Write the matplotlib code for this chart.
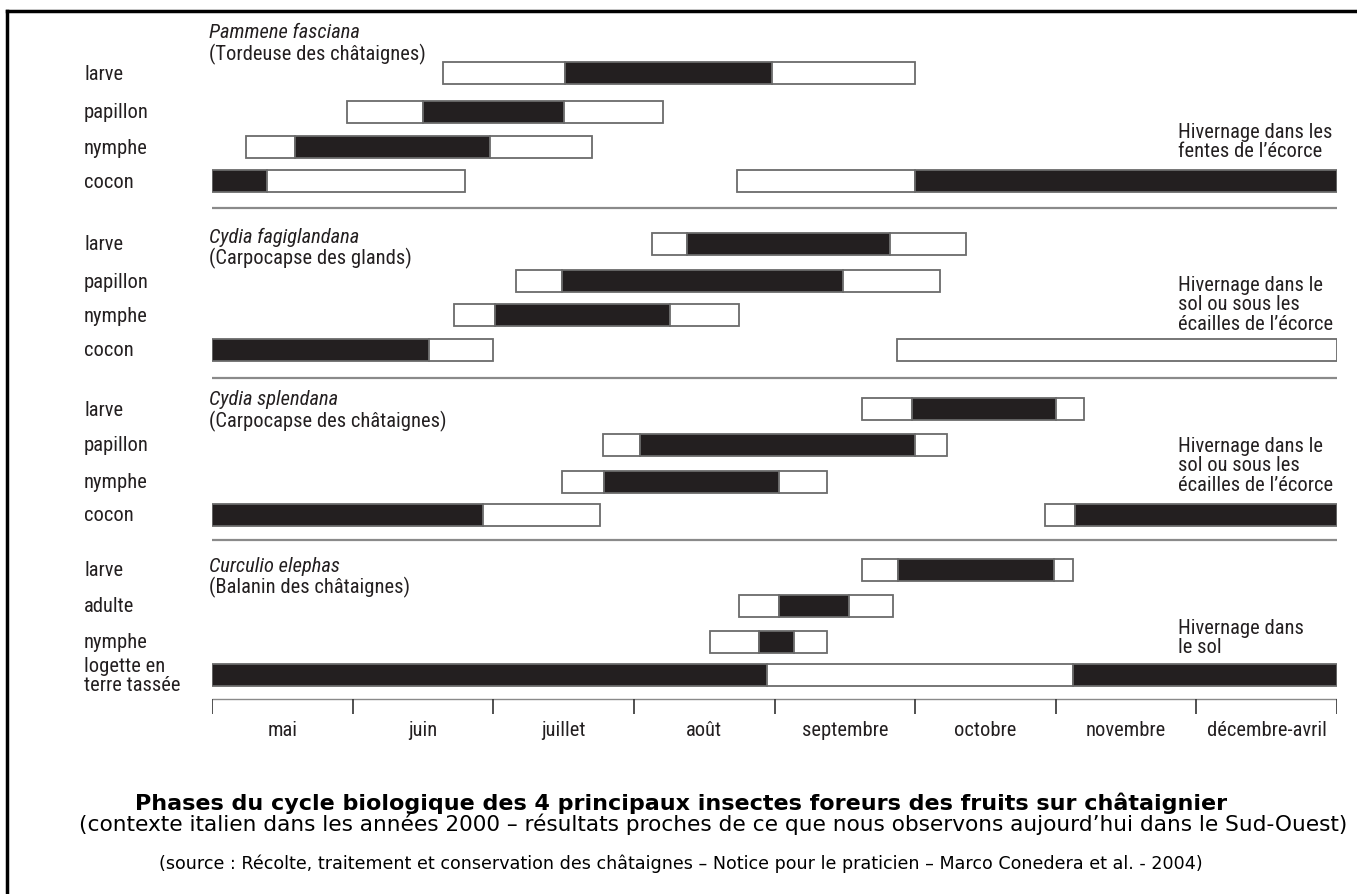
import matplotlib
matplotlib.use('Agg')
import matplotlib.pyplot as plt
from matplotlib import font_manager

# month axis (mai = 0 ... décembre-avril ends at 8)
months = ['mai', 'juin', 'juillet', 'août', 'septembre', 'octobre', 'novembre', 'décembre-avril']

# each bar segment: (start, end, filled) in months from the 1st of May
pammene_name = ['Pammene fasciana', '(Tordeuse des châtaignes)']
pammene_rows = ['larve', 'papillon', 'nymphe', 'cocon']
pammene_bars = [
    [(1.64, 2.51, 0), (2.51, 3.98, 1), (3.98, 5.00, 0)],
    [(0.96, 1.50, 0), (1.50, 2.50, 1), (2.50, 3.21, 0)],
    [(0.24, 0.59, 0), (0.59, 1.98, 1), (1.98, 2.70, 0)],
    [(0.00, 0.39, 1), (0.39, 1.80, 0), (3.73, 5.00, 0), (5.00, 8.00, 1)],
]
pammene_note = 'Hivernage dans les\nfentes de l\u2019écorce'

fagi_name = ['Cydia fagiglandana', '(Carpocapse des glands)']
fagi_rows = ['larve', 'papillon', 'nymphe', 'cocon']
fagi_bars = [
    [(3.13, 3.38, 0), (3.38, 4.82, 1), (4.82, 5.36, 0)],
    [(2.16, 2.49, 0), (2.49, 4.49, 1), (4.49, 5.18, 0)],
    [(1.72, 2.01, 0), (2.01, 3.26, 1), (3.26, 3.75, 0)],
    [(0.00, 1.54, 1), (1.54, 2.00, 0), (4.87, 8.00, 0)],
]
fagi_note = 'Hivernage dans le\nsol ou sous les\nécailles de l\u2019écorce'

splend_name = ['Cydia splendana', '(Carpocapse des châtaignes)']
splend_rows = ['larve', 'papillon', 'nymphe', 'cocon']
splend_bars = [
    [(4.62, 4.98, 0), (4.98, 6.00, 1), (6.00, 6.20, 0)],
    [(2.78, 3.04, 0), (3.04, 5.00, 1), (5.00, 5.23, 0)],
    [(2.49, 2.79, 0), (2.79, 4.03, 1), (4.03, 4.37, 0)],
    [(0.00, 1.93, 1), (1.93, 2.76, 0), (5.92, 6.14, 0), (6.14, 8.00, 1)],
]
splend_note = 'Hivernage dans le\nsol ou sous les\nécailles de l\u2019écorce'

curc_name = ['Curculio elephas', '(Balanin des châtaignes)']
curc_rows = ['larve', 'adulte', 'nymphe', 'logette en\nterre tassée']
curc_bars = [
    [(4.62, 4.88, 0), (4.88, 5.99, 1), (5.99, 6.12, 0)],
    [(3.75, 4.03, 0), (4.03, 4.53, 1), (4.53, 4.84, 0)],
    [(3.54, 3.89, 0), (3.89, 4.14, 1), (4.14, 4.37, 0)],
    [(0.00, 3.95, 1), (3.95, 6.12, 0), (6.12, 8.00, 1)],
]
curc_note = 'Hivernage dans\nle sol'

title = 'Phases du cycle biologique des 4 principaux insectes foreurs des fruits sur châtaignier'
subtitle = ('(contexte italien dans les années 2000 \u2013 résultats proches de ce que nous '
            'observons aujourd\u2019hui dans le Sud-Ouest)')
source = ('(source : Récolte, traitement et conservation des châtaignes \u2013 Notice pour le '
          'praticien \u2013 Marco Conedera et al. - 2004)')

sections = [
    (pammene_name, pammene_rows, pammene_bars, pammene_note),
    (fagi_name, fagi_rows, fagi_bars, fagi_note),
    (splend_name, splend_rows, splend_bars, splend_note),
    (curc_name, curc_rows, curc_bars, curc_note),
]

# layout (pixels, from top)
W, H = 1357, 895
row_y = [[74, 113, 148, 182], [245, 282, 316, 351], [410, 446, 483, 516], [571, 607, 643, 676]]
name_y = [33, 237, 400, 566]
note_y = [142, 305, 466, 638]
sep_y = [209, 379, 541]
axis_y = 700
bar_h = 22

# a narrow humanist sans close to the original Myriad, if one is installed
fonts = {(f.name, f.style) for f in font_manager.fontManager.ttflist}
chart_font = 'DejaVu Sans'
for cand in ['Myriad Pro', 'Roboto Condensed', 'Open Sans Condensed', 'Asap Condensed',
             'Archivo Narrow', 'Liberation Sans Narrow']:
    if (cand, 'normal') in fonts and (cand, 'italic') in fonts:
        chart_font = cand
        break
fs = 14.8 if chart_font != 'DejaVu Sans' else 11.5
ink = '#231f20'

fig = plt.figure(figsize=(W / 100, H / 100), dpi=100)
ax = fig.add_axes([212 / W, 0, 1125 / W, 1])
ax.set_xlim(0, 8)
ax.set_ylim(H, 0)
ax.axis('off')


def px(x):
    return x / W


def py(y):
    return 1 - y / H


for s, (name, rows, bars, note) in enumerate(sections):
    for r, (label, segs) in enumerate(zip(rows, bars)):
        y = row_y[s][r]
        for x0, x1, filled in segs:
            ax.barh(y, x1 - x0, left=x0, height=bar_h,
                    color=ink if filled else 'white',
                    edgecolor='#6b6b6b', linewidth=1.3)
        fig.text(px(84), py(y), label, fontsize=fs, family=chart_font,
                 color=ink, va='center', ha='left', linespacing=0.95)
    fig.text(px(209), py(name_y[s]), name[0], fontsize=fs, family=chart_font,
             style='italic', color=ink, va='center')
    fig.text(px(209), py(name_y[s] + 21), name[1], fontsize=fs, family=chart_font,
             color=ink, va='center')
    fig.text(px(1178), py(note_y[s]), note, fontsize=fs, family=chart_font,
             color=ink, va='center', linespacing=1.05)

for y in sep_y:
    ax.hlines(y, 0, 8, color='#8a8a8a', linewidth=1.6)

# month axis
ax.hlines(axis_y, 0, 8, color='#8a8a8a', linewidth=1.0)
ax.vlines(range(len(months) + 1), axis_y, axis_y + 15, color='#333333', linewidth=1.2)
for i, m in enumerate(months):
    ax.text(i + 0.5, axis_y + 31, m, fontsize=fs, family=chart_font,
            color=ink, ha='center', va='center')

# frame around the figure
fig.add_artist(plt.Line2D([px(7), 1], [py(12), py(12)], color='black', linewidth=2.5))
fig.add_artist(plt.Line2D([px(7), px(7)], [py(12), 0], color='black', linewidth=2.5))

fig.text(px(681), py(803), title, fontsize=16, weight='bold', family='DejaVu Sans',
         ha='center', va='center')
fig.text(px(713), py(824), subtitle, fontsize=15.6, family='DejaVu Sans',
         ha='center', va='center')
fig.text(px(681), py(864), source, fontsize=12.6, family='DejaVu Sans',
         ha='center', va='center')

fig.savefig('out.png', dpi=100)
